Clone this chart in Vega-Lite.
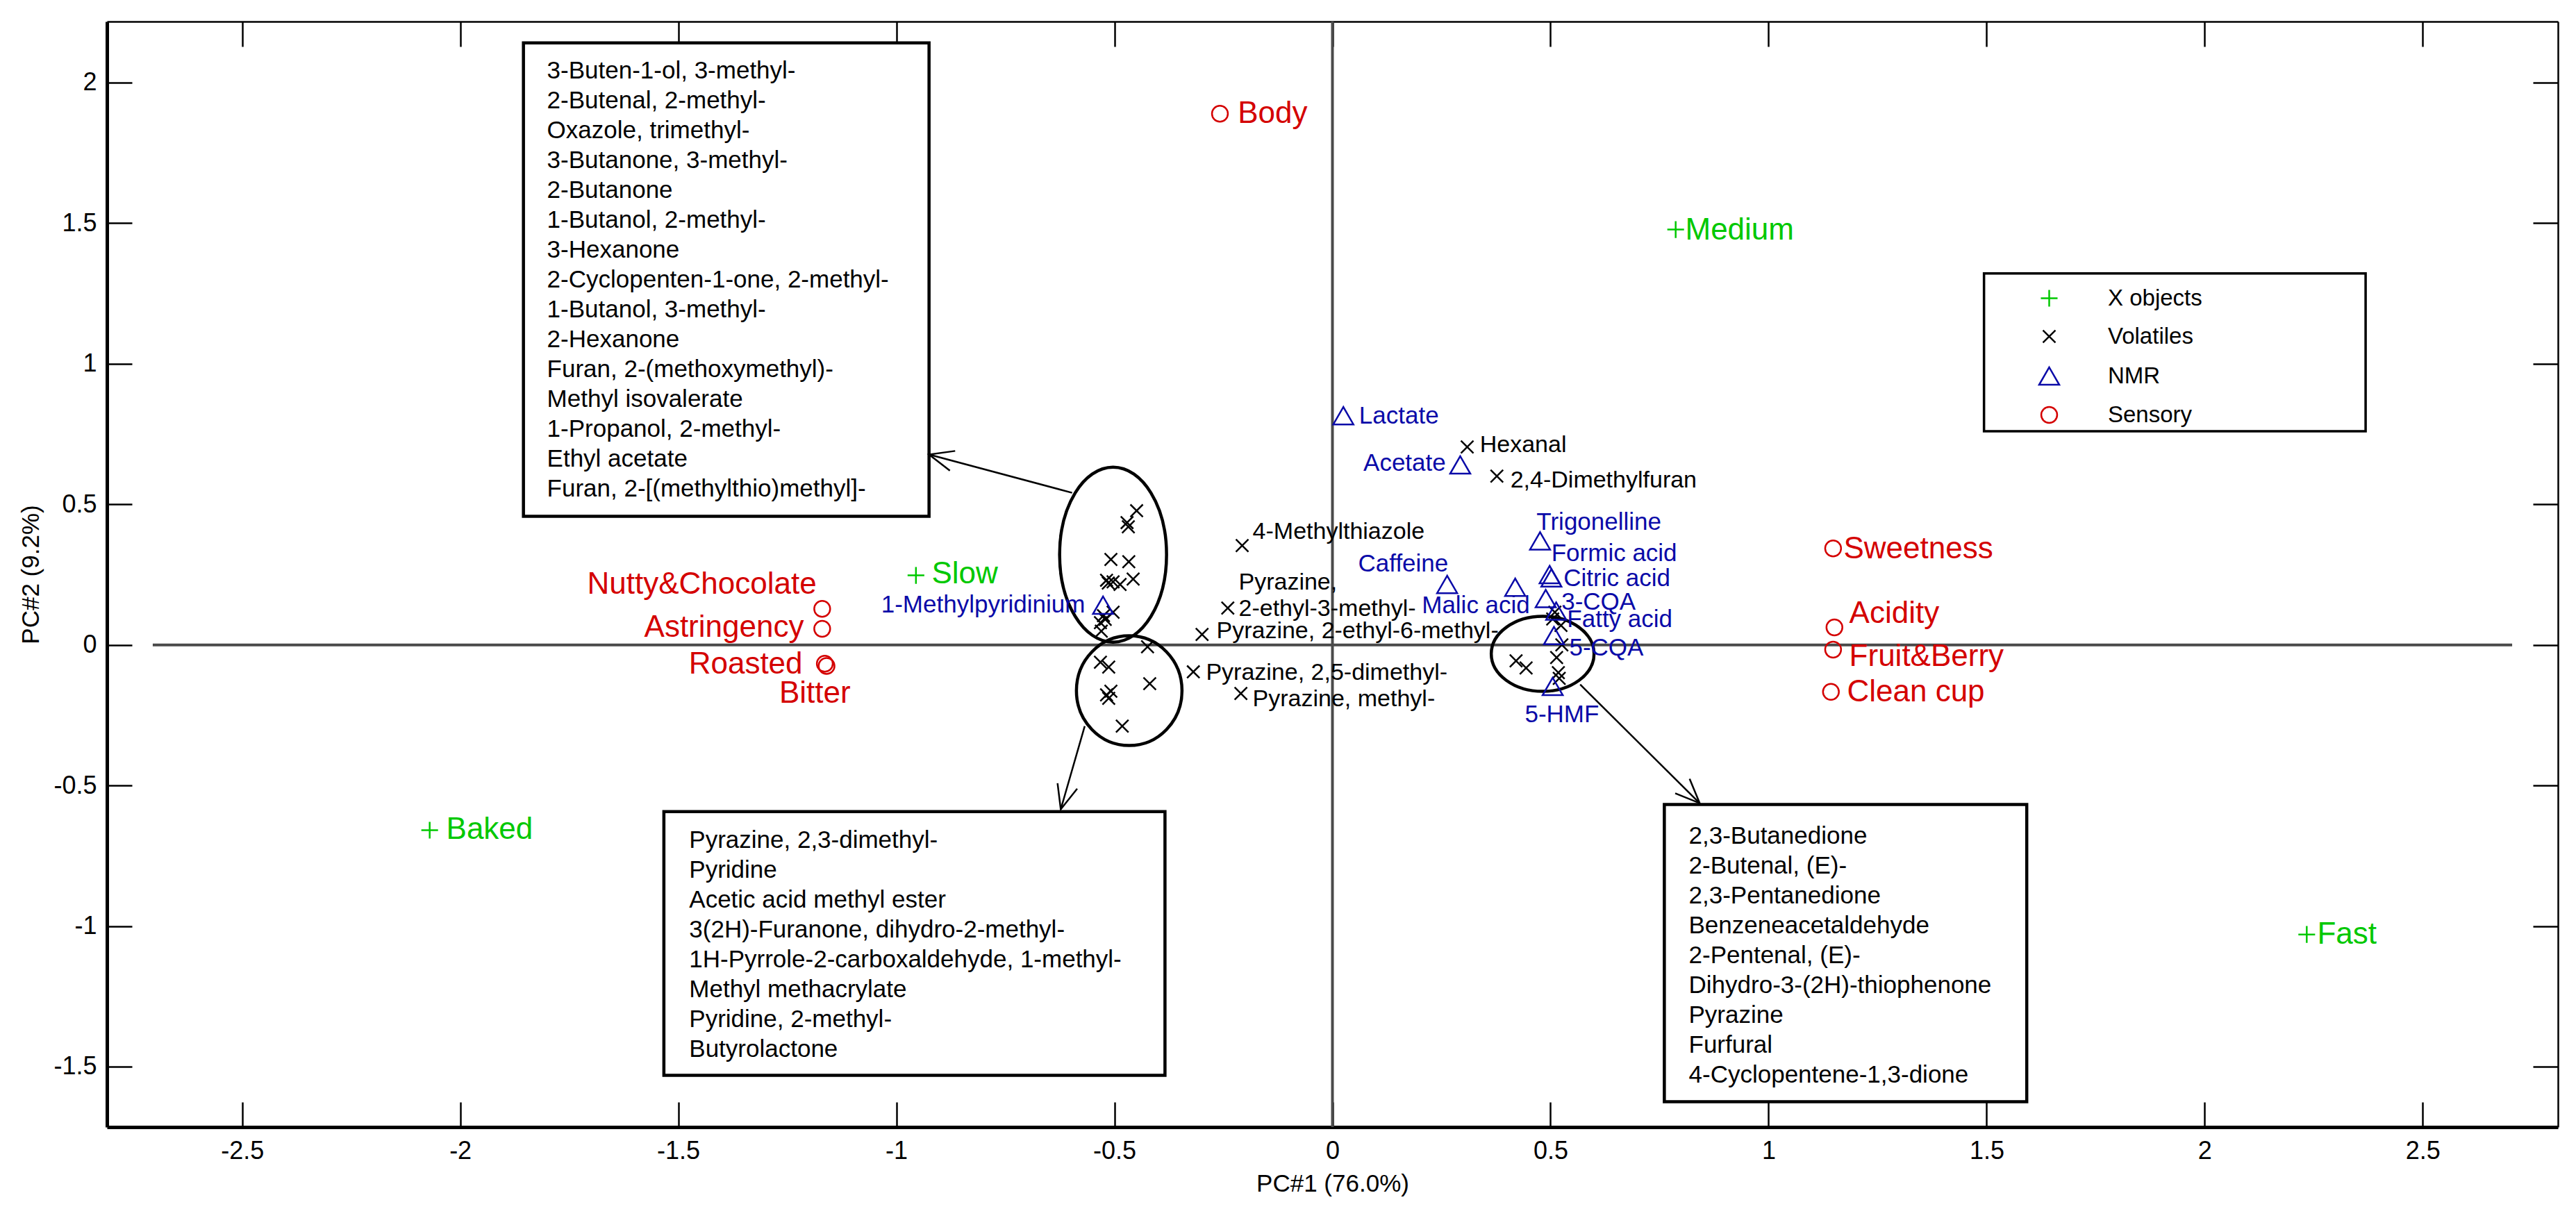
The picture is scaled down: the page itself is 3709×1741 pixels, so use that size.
{
  "$schema": "https://vega.github.io/schema/vega-lite/v6.json",
  "width": 3529,
  "height": 1592,
  "autosize": {"type": "none"},
  "padding": {"left": 154, "top": 31, "right": 26, "bottom": 118},
  "config": {
    "font": "Liberation Sans",
    "view": {"stroke": null},
    "axis": {"grid": false, "labelFontSize": 36, "titleFontSize": 35, "titleFontWeight": "normal", "labelColor": "#000", "titleColor": "#000", "tickColor": "#000", "domainColor": "#000", "tickWidth": 2.5, "labelFlush": false, "labelOverlap": false},
    "legend": {"labelLimit": 1000, "labelFontSize": 33, "labelColor": "black", "symbolSize": 841, "symbolStrokeWidth": 2.5, "padding": 18, "rowPadding": 21, "labelOffset": 68, "symbolOffset": 59}
  },
  "datasets": {
    "pts": [
      {"name": "Medium", "type": "X objects", "x": 0.787, "y": 1.477, "label": "Medium", "lx": 0.809, "ly": 1.474},
      {"name": "Slow", "type": "X objects", "x": -0.955, "y": 0.247, "label": "Slow", "lx": -0.919, "ly": 0.252},
      {"name": "Baked", "type": "X objects", "x": -2.07, "y": -0.659, "label": "Baked", "lx": -2.032, "ly": -0.659},
      {"name": "Fast", "type": "X objects", "x": 2.234, "y": -1.03, "label": "Fast", "lx": 2.258, "ly": -1.03},
      {"name": "Hexanal", "type": "Volatiles", "x": 0.309, "y": 0.704, "label": "Hexanal", "lx": 0.338, "ly": 0.711},
      {"name": "2,4-Dimethylfuran", "type": "Volatiles", "x": 0.377, "y": 0.6, "label": "2,4-Dimethylfuran", "lx": 0.408, "ly": 0.585},
      {"name": "4-Methylthiazole", "type": "Volatiles", "x": -0.207, "y": 0.353, "label": "4-Methylthiazole", "lx": -0.183, "ly": 0.402},
      {"name": "Pyrazine, 2-ethyl-3-methyl-", "type": "Volatiles", "x": -0.24, "y": 0.131, "label": "Pyrazine,\n2-ethyl-3-methyl-", "lx": -0.215, "ly": 0.222},
      {"name": "Pyrazine, 2-ethyl-6-methyl-", "type": "Volatiles", "x": -0.299, "y": 0.037, "label": "Pyrazine, 2-ethyl-6-methyl-", "lx": -0.266, "ly": 0.049},
      {"name": "Pyrazine, 2,5-dimethyl-", "type": "Volatiles", "x": -0.319, "y": -0.096, "label": "Pyrazine, 2,5-dimethyl-", "lx": -0.29, "ly": -0.099},
      {"name": "Pyrazine, methyl-", "type": "Volatiles", "x": -0.21, "y": -0.173, "label": "Pyrazine, methyl-", "lx": -0.183, "ly": -0.193},
      {"name": "3-Buten-1-ol, 3-methyl-", "type": "Volatiles", "x": -0.449, "y": 0.477},
      {"name": "2-Butenal, 2-methyl-", "type": "Volatiles", "x": -0.471, "y": 0.435},
      {"name": "Oxazole, trimethyl-", "type": "Volatiles", "x": -0.468, "y": 0.42},
      {"name": "3-Butanone, 3-methyl-", "type": "Volatiles", "x": -0.508, "y": 0.304},
      {"name": "2-Butanone", "type": "Volatiles", "x": -0.467, "y": 0.296},
      {"name": "1-Butanol, 2-methyl-", "type": "Volatiles", "x": -0.518, "y": 0.23},
      {"name": "3-Hexanone", "type": "Volatiles", "x": -0.503, "y": 0.224},
      {"name": "2-Cyclopenten-1-one, 2-methyl-", "type": "Volatiles", "x": -0.487, "y": 0.215},
      {"name": "1-Butanol, 3-methyl-", "type": "Volatiles", "x": -0.457, "y": 0.234},
      {"name": "2-Hexanone", "type": "Volatiles", "x": -0.514, "y": 0.22},
      {"name": "Furan, 2-(methoxymethyl)-", "type": "Volatiles", "x": -0.503, "y": 0.116},
      {"name": "Methyl isovalerate", "type": "Volatiles", "x": -0.525, "y": 0.104},
      {"name": "1-Propanol, 2-methyl-", "type": "Volatiles", "x": -0.521, "y": 0.091},
      {"name": "Ethyl acetate", "type": "Volatiles", "x": -0.532, "y": 0.079},
      {"name": "Furan, 2-[(methylthio)methyl]-", "type": "Volatiles", "x": -0.53, "y": 0.049},
      {"name": "Pyrazine, 2,3-dimethyl-", "type": "Volatiles", "x": -0.424, "y": -0.007},
      {"name": "Pyridine", "type": "Volatiles", "x": -0.532, "y": -0.062},
      {"name": "Acetic acid methyl ester", "type": "Volatiles", "x": -0.513, "y": -0.079},
      {"name": "3(2H)-Furanone, dihydro-2-methyl-", "type": "Volatiles", "x": -0.419, "y": -0.138},
      {"name": "1H-Pyrrole-2-carboxaldehyde, 1-methyl-", "type": "Volatiles", "x": -0.508, "y": -0.165},
      {"name": "Methyl methacrylate", "type": "Volatiles", "x": -0.518, "y": -0.178},
      {"name": "Pyridine, 2-methyl-", "type": "Volatiles", "x": -0.513, "y": -0.19},
      {"name": "Butyrolactone", "type": "Volatiles", "x": -0.482, "y": -0.289},
      {"name": "2,3-Butanedione", "type": "Volatiles", "x": 0.51, "y": 0.116},
      {"name": "2-Butenal, (E)-", "type": "Volatiles", "x": 0.505, "y": 0.092},
      {"name": "2,3-Pentanedione", "type": "Volatiles", "x": 0.524, "y": 0.069},
      {"name": "Benzeneacetaldehyde", "type": "Volatiles", "x": 0.526, "y": 0.0},
      {"name": "2-Pentenal, (E)-", "type": "Volatiles", "x": 0.421, "y": -0.057},
      {"name": "Dihydro-3-(2H)-thiophenone", "type": "Volatiles", "x": 0.444, "y": -0.082},
      {"name": "Pyrazine", "type": "Volatiles", "x": 0.514, "y": -0.045},
      {"name": "Furfural", "type": "Volatiles", "x": 0.518, "y": -0.099},
      {"name": "4-Cyclopentene-1,3-dione", "type": "Volatiles", "x": 0.52, "y": -0.119},
      {"name": "Lactate", "type": "NMR", "x": 0.025, "y": 0.815, "label": "Lactate", "lx": 0.061, "ly": 0.815},
      {"name": "Acetate", "type": "NMR", "x": 0.293, "y": 0.64, "label": "Acetate", "lx": 0.26, "ly": 0.647},
      {"name": "Trigonelline", "type": "NMR", "x": 0.476, "y": 0.37, "label": "Trigonelline", "lx": 0.468, "ly": 0.437},
      {"name": "Formic acid", "type": "NMR", "x": 0.498, "y": 0.25, "label": "Formic acid", "lx": 0.502, "ly": 0.326},
      {"name": "Caffeine", "type": "NMR", "x": 0.263, "y": 0.215, "label": "Caffeine", "lx": 0.059, "ly": 0.289},
      {"name": "Malic acid", "type": "NMR", "x": 0.419, "y": 0.205, "label": "Malic acid", "lx": 0.205, "ly": 0.141},
      {"name": "Citric acid", "type": "NMR", "x": 0.502, "y": 0.238, "label": "Citric acid", "lx": 0.53, "ly": 0.235},
      {"name": "3-CQA", "type": "NMR", "x": 0.489, "y": 0.165, "label": "3-CQA", "lx": 0.525, "ly": 0.153},
      {"name": "Fatty acid", "type": "NMR", "x": 0.513, "y": 0.12, "label": "Fatty acid", "lx": 0.538, "ly": 0.091},
      {"name": "5-CQA", "type": "NMR", "x": 0.508, "y": 0.033, "label": "5-CQA", "lx": 0.543, "ly": -0.012},
      {"name": "5-HMF", "type": "NMR", "x": 0.505, "y": -0.148, "label": "5-HMF", "lx": 0.441, "ly": -0.247},
      {"name": "1-Methylpyridinium", "type": "NMR", "x": -0.526, "y": 0.141, "label": "1-Methylpyridinium", "lx": -0.567, "ly": 0.143},
      {"name": "Body", "type": "Sensory", "x": -0.258, "y": 1.889, "label": "Body", "lx": -0.217, "ly": 1.889},
      {"name": "Nutty&Chocolate", "type": "Sensory", "x": -1.17, "y": 0.128, "label": "Nutty&Chocolate", "lx": -1.183, "ly": 0.215},
      {"name": "Astringency", "type": "Sensory", "x": -1.17, "y": 0.057, "label": "Astringency", "lx": -1.212, "ly": 0.062},
      {"name": "Roasted", "type": "Sensory", "x": -1.164, "y": -0.067, "label": "Roasted", "lx": -1.215, "ly": -0.069},
      {"name": "Bitter", "type": "Sensory", "x": -1.16, "y": -0.075, "label": "Bitter", "lx": -1.105, "ly": -0.173},
      {"name": "Sweetness", "type": "Sensory", "x": 1.148, "y": 0.343, "label": "Sweetness", "lx": 1.172, "ly": 0.341},
      {"name": "Acidity", "type": "Sensory", "x": 1.151, "y": 0.062, "label": "Acidity", "lx": 1.185, "ly": 0.111},
      {"name": "Fruit&Berry", "type": "Sensory", "x": 1.148, "y": -0.017, "label": "Fruit&Berry", "lx": 1.185, "ly": -0.042},
      {"name": "Clean cup", "type": "Sensory", "x": 1.143, "y": -0.167, "label": "Clean cup", "lx": 1.18, "ly": -0.168}
    ],
    "boxes": [
      {"id": "A", "x1": -1.855, "x2": -0.925, "y1": 2.141, "y2": 0.457, "tx": -1.801, "ty": 2.084,
       "lines": ["3-Buten-1-ol, 3-methyl-", "2-Butenal, 2-methyl-", "Oxazole, trimethyl-", "3-Butanone, 3-methyl-", "2-Butanone", "1-Butanol, 2-methyl-", "3-Hexanone", "2-Cyclopenten-1-one, 2-methyl-", "1-Butanol, 3-methyl-", "2-Hexanone", "Furan, 2-(methoxymethyl)-", "Methyl isovalerate", "1-Propanol, 2-methyl-", "Ethyl acetate", "Furan, 2-[(methylthio)methyl]-"]},
      {"id": "B", "x1": -1.533, "x2": -0.384, "y1": -0.593, "y2": -1.531, "tx": -1.475, "ty": -0.654,
       "lines": ["Pyrazine, 2,3-dimethyl-", "Pyridine", "Acetic acid methyl ester", "3(2H)-Furanone, dihydro-2-methyl-", "1H-Pyrrole-2-carboxaldehyde, 1-methyl-", "Methyl methacrylate", "Pyridine, 2-methyl-", "Butyrolactone"]},
      {"id": "C", "x1": 0.761, "x2": 1.592, "y1": -0.568, "y2": -1.625, "tx": 0.817, "ty": -0.638,
       "lines": ["2,3-Butanedione", "2-Butenal, (E)-", "2,3-Pentanedione", "Benzeneacetaldehyde", "2-Pentenal, (E)-", "Dihydro-3-(2H)-thiophenone", "Pyrazine", "Furfural", "4-Cyclopentene-1,3-dione"]}
    ],
    "ellipses": [
      {"id": "A", "x": -0.503, "y": 0.321},
      {"id": "B", "x": -0.466, "y": -0.163},
      {"id": "C", "x": 0.482, "y": -0.032}
    ],
    "arrows": [
      {"id": "a1", "x": -0.597, "y": 0.541, "x2": -0.925, "y2": 0.677},
      {"id": "a2", "x": -0.568, "y": -0.289, "x2": -0.623, "y2": -0.585},
      {"id": "a3", "x": 0.568, "y": -0.141, "x2": 0.842, "y2": -0.563}
    ]
  },
  "layer": [
    {
      "data": {"values": [{"x": 0}]},
      "mark": {"type": "rule", "color": "#4a4a4a", "strokeWidth": 4},
      "encoding": {
        "x": {"field": "x", "type": "quantitative", "scale": {"domain": [-2.81, 2.81], "nice": false, "zero": false},
              "axis": {"orient": "top", "values": [-2.5, -2, -1.5, -1, -0.5, 0, 0.5, 1, 1.5, 2, 2.5], "labels": false, "ticks": false, "title": null, "domainWidth": 2.5}}
      }
    },
    {
      "data": {"values": [{"y": 0, "x1": -2.705, "x2": 2.705}]},
      "mark": {"type": "rule", "color": "#4a4a4a", "strokeWidth": 4},
      "encoding": {
        "x": {"field": "x1", "type": "quantitative", "scale": {"domain": [-2.81, 2.81], "nice": false, "zero": false}, "axis": null},
        "x2": {"field": "x2"},
        "y": {"field": "y", "type": "quantitative", "scale": {"domain": [-1.715, 2.217], "nice": false, "zero": false},
              "axis": {"orient": "right", "values": [-1.5, -1, -0.5, 0, 0.5, 1, 1.5, 2], "labels": false, "ticks": false, "title": null, "domainWidth": 2.5}}
      }
    },
    {
      "data": {"name": "boxes"},
      "mark": {"type": "rect", "fill": "white", "stroke": "black", "strokeWidth": 4.5},
      "encoding": {
        "x": {"field": "x1", "type": "quantitative", "scale": {"domain": [-2.81, 2.81], "nice": false, "zero": false},
              "axis": {"orient": "bottom", "values": [-2.5, -2, -1.5, -1, -0.5, 0, 0.5, 1, 1.5, 2, 2.5], "labels": false, "domain": false, "title": null, "tickSize": 36, "offset": -36}},
        "x2": {"field": "x2"},
        "y": {"field": "y1", "type": "quantitative", "scale": {"domain": [-1.715, 2.217], "nice": false, "zero": false},
              "axis": {"orient": "left", "values": [-1.5, -1, -0.5, 0, 0.5, 1, 1.5, 2], "labels": false, "domain": false, "title": null, "tickSize": 36, "offset": -36}},
        "y2": {"field": "y2"}
      }
    },
    {
      "data": {"name": "boxes"},
      "mark": {"type": "text", "align": "left", "baseline": "top", "fontSize": 35, "lineHeight": 43, "color": "black"},
      "encoding": {
        "x": {"field": "tx", "type": "quantitative", "scale": {"domain": [-2.81, 2.81], "nice": false, "zero": false},
              "axis": {"orient": "top", "values": [-2.5, -2, -1.5, -1, -0.5, 0, 0.5, 1, 1.5, 2, 2.5], "labels": false, "domain": false, "title": null, "tickSize": 36, "offset": -36}},
        "y": {"field": "ty", "type": "quantitative", "scale": {"domain": [-1.715, 2.217], "nice": false, "zero": false},
              "axis": {"orient": "right", "values": [-1.5, -1, -0.5, 0, 0.5, 1, 1.5, 2], "labels": false, "domain": false, "title": null, "tickSize": 36, "offset": -36}},
        "text": {"field": "lines", "type": "nominal"}
      }
    },
    {
      "data": {"values": [{"x1": 1.494, "x2": 2.369, "y1": 1.321, "y2": 0.76}]},
      "mark": {"type": "rect", "fill": "white", "stroke": "black", "strokeWidth": 3.5},
      "encoding": {
        "x": {"field": "x1", "type": "quantitative", "scale": {"domain": [-2.81, 2.81], "nice": false, "zero": false}, "axis": null},
        "x2": {"field": "x2"},
        "y": {"field": "y1", "type": "quantitative", "scale": {"domain": [-1.715, 2.217], "nice": false, "zero": false}, "axis": null},
        "y2": {"field": "y2"}
      }
    },
    {
      "data": {"name": "ellipses"},
      "transform": [{"filter": {"field": "id", "equal": "A"}}],
      "mark": {"type": "point", "shape": "M0,-1A0.611,1,0,1,1,0,1A0.611,1,0,1,1,0,-1Z", "size": 63504, "filled": false, "stroke": "black", "strokeWidth": 4.5, "opacity": 1},
      "encoding": {
        "x": {"field": "x", "type": "quantitative", "scale": {"domain": [-2.81, 2.81], "nice": false, "zero": false}, "axis": null},
        "y": {"field": "y", "type": "quantitative", "scale": {"domain": [-1.715, 2.217], "nice": false, "zero": false}, "axis": null}
      }
    },
    {
      "data": {"name": "ellipses"},
      "transform": [{"filter": {"field": "id", "equal": "B"}}],
      "mark": {"type": "point", "shape": "M0,-1A0.962,1,0,1,1,0,1A0.962,1,0,1,1,0,-1Z", "size": 24964, "filled": false, "stroke": "black", "strokeWidth": 4.5, "opacity": 1},
      "encoding": {
        "x": {"field": "x", "type": "quantitative", "scale": {"domain": [-2.81, 2.81], "nice": false, "zero": false}, "axis": null},
        "y": {"field": "y", "type": "quantitative", "scale": {"domain": [-1.715, 2.217], "nice": false, "zero": false}, "axis": null}
      }
    },
    {
      "data": {"name": "ellipses"},
      "transform": [{"filter": {"field": "id", "equal": "C"}}],
      "mark": {"type": "point", "shape": "M-1,0A1,0.73,0,1,1,1,0A1,0.73,0,1,1,-1,0Z", "size": 21904, "filled": false, "stroke": "black", "strokeWidth": 4.5, "opacity": 1},
      "encoding": {
        "x": {"field": "x", "type": "quantitative", "scale": {"domain": [-2.81, 2.81], "nice": false, "zero": false}, "axis": null},
        "y": {"field": "y", "type": "quantitative", "scale": {"domain": [-1.715, 2.217], "nice": false, "zero": false}, "axis": null}
      }
    },
    {
      "data": {"name": "arrows"},
      "mark": {"type": "rule", "color": "black", "strokeWidth": 2.5},
      "encoding": {
        "x": {"field": "x", "type": "quantitative", "scale": {"domain": [-2.81, 2.81], "nice": false, "zero": false}, "axis": null},
        "y": {"field": "y", "type": "quantitative", "scale": {"domain": [-1.715, 2.217], "nice": false, "zero": false}, "axis": null},
        "x2": {"field": "x2"},
        "y2": {"field": "y2"}
      }
    },
    {
      "data": {"name": "arrows"},
      "transform": [{"filter": {"field": "id", "equal": "a1"}}],
      "mark": {"type": "point", "shape": "M-1,-0.42L0,0L-1,0.42", "size": 4900, "angle": 195, "filled": false, "stroke": "black", "strokeWidth": 2.5, "opacity": 1},
      "encoding": {
        "x": {"field": "x2", "type": "quantitative", "scale": {"domain": [-2.81, 2.81], "nice": false, "zero": false}, "axis": null},
        "y": {"field": "y2", "type": "quantitative", "scale": {"domain": [-1.715, 2.217], "nice": false, "zero": false}, "axis": null}
      }
    },
    {
      "data": {"name": "arrows"},
      "transform": [{"filter": {"field": "id", "equal": "a2"}}],
      "mark": {"type": "point", "shape": "M-1,-0.42L0,0L-1,0.42", "size": 4900, "angle": 105.8, "filled": false, "stroke": "black", "strokeWidth": 2.5, "opacity": 1},
      "encoding": {
        "x": {"field": "x2", "type": "quantitative", "scale": {"domain": [-2.81, 2.81], "nice": false, "zero": false}, "axis": null},
        "y": {"field": "y2", "type": "quantitative", "scale": {"domain": [-1.715, 2.217], "nice": false, "zero": false}, "axis": null}
      }
    },
    {
      "data": {"name": "arrows"},
      "transform": [{"filter": {"field": "id", "equal": "a3"}}],
      "mark": {"type": "point", "shape": "M-1,-0.42L0,0L-1,0.42", "size": 4900, "angle": 44.8, "filled": false, "stroke": "black", "strokeWidth": 2.5, "opacity": 1},
      "encoding": {
        "x": {"field": "x2", "type": "quantitative", "scale": {"domain": [-2.81, 2.81], "nice": false, "zero": false}, "axis": null},
        "y": {"field": "y2", "type": "quantitative", "scale": {"domain": [-1.715, 2.217], "nice": false, "zero": false}, "axis": null}
      }
    },
    {
      "data": {"name": "pts"},
      "mark": {"type": "point", "filled": false, "strokeWidth": 2.5, "size": 841, "opacity": 1},
      "encoding": {
        "x": {"field": "x", "type": "quantitative", "scale": {"domain": [-2.81, 2.81], "nice": false, "zero": false},
              "axis": {"orient": "bottom", "values": [-2.5, -2, -1.5, -1, -0.5, 0, 0.5, 1, 1.5, 2, 2.5], "title": "PC#1 (76.0%)", "labelExpr": "'' + datum.value", "ticks": false, "labelPadding": 17, "domainWidth": 5, "titlePadding": 12}},
        "y": {"field": "y", "type": "quantitative", "scale": {"domain": [-1.715, 2.217], "nice": false, "zero": false},
              "axis": {"orient": "left", "values": [-1.5, -1, -0.5, 0, 0.5, 1, 1.5, 2], "title": "PC#2 (9.2%)", "labelExpr": "'' + datum.value", "ticks": false, "labelPadding": 15, "domainWidth": 5, "titlePadding": 14}},
        "color": {"field": "type", "type": "nominal",
                  "scale": {"domain": ["X objects", "Volatiles", "NMR", "Sensory"], "range": ["#00c800", "#000000", "#0a0aa8", "#d40000"]},
                  "legend": {"title": null, "orient": "none", "legendX": 2703, "legendY": 364, "padding": 18, "symbolSize": 841, "symbolStrokeWidth": 2.5, "symbolOffset": 59, "labelOffset": 68, "labelFontSize": 33, "labelColor": "black", "labelLimit": 1000, "rowPadding": 21}},
        "shape": {"field": "type", "type": "nominal",
                  "scale": {"domain": ["X objects", "Volatiles", "NMR", "Sensory"], "range": ["M-0.83,0L0.83,0M0,-0.83L0,0.83", "M-0.62,-0.62L0.62,0.62M-0.62,0.62L0.62,-0.62", "triangle-up", "M0.79,0A0.79,0.79,0,1,1,-0.79,0A0.79,0.79,0,1,1,0.79,0Z"]},
                  "legend": {"title": null, "orient": "none", "legendX": 2703, "legendY": 364, "padding": 18, "symbolSize": 841, "symbolStrokeWidth": 2.5, "symbolOffset": 59, "labelOffset": 68, "labelFontSize": 33, "labelColor": "black", "labelLimit": 1000, "rowPadding": 21}}
      }
    },
    {
      "data": {"name": "pts"},
      "transform": [{"filter": {"field": "type", "equal": "X objects"}}],
      "mark": {"type": "text", "align": "left", "baseline": "middle", "fontSize": 44, "color": "#00c800"},
      "encoding": {
        "x": {"field": "lx", "type": "quantitative", "scale": {"domain": [-2.81, 2.81], "nice": false, "zero": false}, "axis": null},
        "y": {"field": "ly", "type": "quantitative", "scale": {"domain": [-1.715, 2.217], "nice": false, "zero": false}, "axis": null},
        "text": {"field": "label", "type": "nominal"}
      }
    },
    {
      "data": {"name": "pts"},
      "transform": [{"filter": {"field": "type", "equal": "Sensory"}}, {"filter": {"not": {"field": "name", "oneOf": ["Nutty&Chocolate", "Astringency", "Roasted", "Bitter"]}}}],
      "mark": {"type": "text", "align": "left", "baseline": "middle", "fontSize": 44, "color": "#d40000"},
      "encoding": {
        "x": {"field": "lx", "type": "quantitative", "scale": {"domain": [-2.81, 2.81], "nice": false, "zero": false}, "axis": null},
        "y": {"field": "ly", "type": "quantitative", "scale": {"domain": [-1.715, 2.217], "nice": false, "zero": false}, "axis": null},
        "text": {"field": "label", "type": "nominal"}
      }
    },
    {
      "data": {"name": "pts"},
      "transform": [{"filter": {"field": "name", "oneOf": ["Nutty&Chocolate", "Astringency", "Roasted", "Bitter"]}}],
      "mark": {"type": "text", "align": "right", "baseline": "middle", "fontSize": 44, "color": "#d40000"},
      "encoding": {
        "x": {"field": "lx", "type": "quantitative", "scale": {"domain": [-2.81, 2.81], "nice": false, "zero": false}, "axis": null},
        "y": {"field": "ly", "type": "quantitative", "scale": {"domain": [-1.715, 2.217], "nice": false, "zero": false}, "axis": null},
        "text": {"field": "label", "type": "nominal"}
      }
    },
    {
      "data": {"name": "pts"},
      "transform": [{"filter": {"field": "type", "equal": "NMR"}}, {"filter": {"not": {"field": "name", "oneOf": ["Acetate", "1-Methylpyridinium"]}}}],
      "mark": {"type": "text", "align": "left", "baseline": "middle", "fontSize": 35, "color": "#0a0aa8"},
      "encoding": {
        "x": {"field": "lx", "type": "quantitative", "scale": {"domain": [-2.81, 2.81], "nice": false, "zero": false}, "axis": null},
        "y": {"field": "ly", "type": "quantitative", "scale": {"domain": [-1.715, 2.217], "nice": false, "zero": false}, "axis": null},
        "text": {"field": "label", "type": "nominal"}
      }
    },
    {
      "data": {"name": "pts"},
      "transform": [{"filter": {"field": "name", "oneOf": ["Acetate", "1-Methylpyridinium"]}}],
      "mark": {"type": "text", "align": "right", "baseline": "middle", "fontSize": 35, "color": "#0a0aa8"},
      "encoding": {
        "x": {"field": "lx", "type": "quantitative", "scale": {"domain": [-2.81, 2.81], "nice": false, "zero": false}, "axis": null},
        "y": {"field": "ly", "type": "quantitative", "scale": {"domain": [-1.715, 2.217], "nice": false, "zero": false}, "axis": null},
        "text": {"field": "label", "type": "nominal"}
      }
    },
    {
      "data": {"name": "pts"},
      "transform": [{"filter": {"field": "type", "equal": "Volatiles"}}, {"filter": "isValid(datum.label)"}],
      "mark": {"type": "text", "align": "left", "baseline": "middle", "fontSize": 34, "color": "#000000", "lineBreak": "\n", "lineHeight": 38},
      "encoding": {
        "x": {"field": "lx", "type": "quantitative", "scale": {"domain": [-2.81, 2.81], "nice": false, "zero": false}, "axis": null},
        "y": {"field": "ly", "type": "quantitative", "scale": {"domain": [-1.715, 2.217], "nice": false, "zero": false}, "axis": null},
        "text": {"field": "label", "type": "nominal"}
      }
    }
  ],
  "resolve": {"axis": {"x": "independent", "y": "independent"}}
}
